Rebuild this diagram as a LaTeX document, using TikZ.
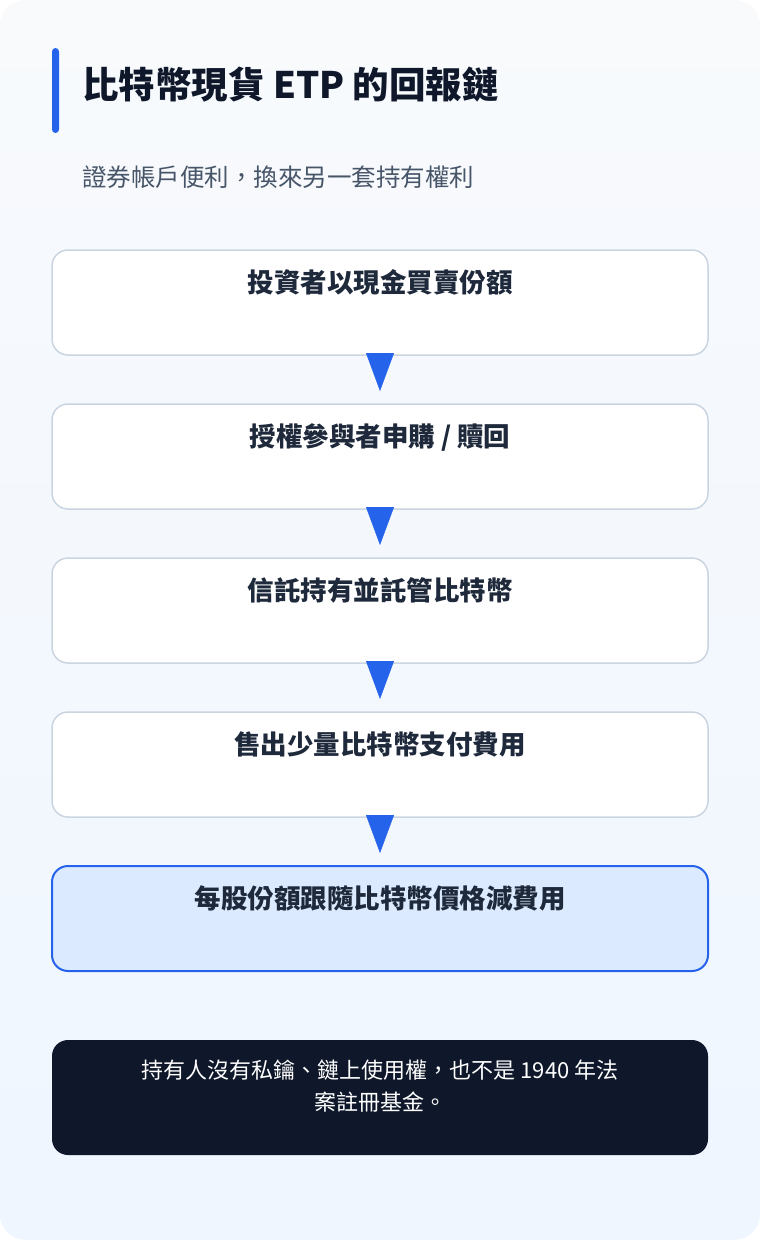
\documentclass[tikz,border=0pt]{standalone}
\usepackage{fontspec}
\setmainfont{Noto Sans CJK TC}
\usetikzlibrary{positioning,arrows.meta}
\definecolor{etpblue}{HTML}{2563EB}
\definecolor{etpink}{HTML}{0F172A}
\definecolor{etptext}{HTML}{1E293B}
\definecolor{etpgray}{HTML}{475569}
\definecolor{etpborder}{HTML}{CBD5E1}
\definecolor{etplight}{HTML}{DBEAFE}
\definecolor{etpbgtop}{HTML}{F8FAFC}
\definecolor{etpbgbot}{HTML}{EFF6FF}

\tikzset{
  stepbox/.style={draw=etpborder, fill=white, line width=1.5pt, rounded corners=16pt,
    minimum width=656pt, inner ysep=0pt, outer sep=0pt, text height=42pt, text depth=63pt,
    text=etptext, font=\fontsize{26.5}{30}\bfseries\selectfont},
  lastbox/.style={stepbox, draw=etpblue, fill=etplight, line width=2pt},
  flowtip/.style={etpblue, line width=0.4pt, -{Triangle[length=38pt,width=28pt]}},
  notebox/.style={fill=etpink, rounded corners=16pt, minimum width=656pt,
    minimum height=115pt, outer sep=0pt},
  notetext/.style={text=white, align=center, inner sep=0pt,
    font=\fontsize{22}{32}\selectfont}
}

\begin{document}
\begin{tikzpicture}[x=1pt,y=-1pt,node distance=49pt]
\useasboundingbox (0,0) rectangle (760,1240);
% Background
\fill[white] (0,0) rectangle (760,1240);
\shade[top color=etpbgtop, bottom color=etpbgbot, rounded corners=26pt] (0,0) rectangle (760,1240);

% Title
\fill[etpblue, rounded corners=3.5pt] (52,48) rectangle (59,133);
\node[anchor=west, inner sep=0pt, text=etpink, font=\fontsize{36.5}{40}\bfseries\selectfont] (title) at (82,85) {比特幣現貨 ETP 的回報鏈};
\node[anchor=west, inner sep=0pt, text=etpgray, font=\fontsize{24.5}{28}\selectfont] (subtitle) at (82,177) {證券帳戶便利，換來另一套持有權利};

% Steps
\node[stepbox, anchor=north] (buy) at (380,250) {投資者以現金買賣份額};
\node[stepbox, below=of buy] (create) {授權參與者申購 / 贖回};
\node[stepbox, below=of create] (trust) {信託持有並託管比特幣};
\node[stepbox, below=of trust] (fee) {售出少量比特幣支付費用};
\node[lastbox, below=of fee] (share) {每股份額跟隨比特幣價格減費用};

% Arrows
\draw[flowtip] ([yshift=2pt]buy.south) -- ([yshift=13pt]create.north);
\draw[flowtip] ([yshift=2pt]create.south) -- ([yshift=13pt]trust.north);
\draw[flowtip] ([yshift=2pt]trust.south) -- ([yshift=13pt]fee.north);
\draw[flowtip] ([yshift=2pt]fee.south) -- ([yshift=13pt]share.north);

% Note
\node[notebox, anchor=north] (note) at (380,1040) {};
\node[notetext, anchor=north] (notetxt) at ([yshift=-20pt]note.north)
  {持有人沒有私鑰、鏈上使用權，也不是 1940 年法\\案註冊基金。};
\end{tikzpicture}
\end{document}
